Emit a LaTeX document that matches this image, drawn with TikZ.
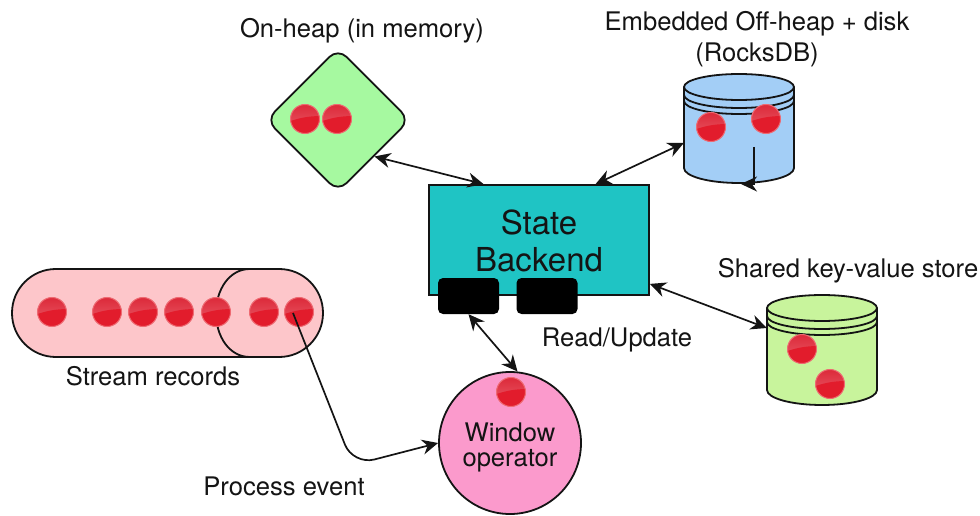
\documentclass[tikz,border=0pt]{standalone}
\usepackage{fontspec}
\setmainfont{TeX Gyre Heros}
\usetikzlibrary{arrows.meta,calc,shapes.geometric}
\definecolor{dmdgreen}{HTML}{A6F9A0}
\definecolor{cylblue}{HTML}{A3CEF6}
\definecolor{cylgreen}{HTML}{C8F49C}
\definecolor{teal}{HTML}{1FC4C4}
\definecolor{pillpink}{HTML}{FDC6CA}
\definecolor{winpink}{HTML}{FB9ACC}
\definecolor{ballred}{HTML}{E21C2C}
\definecolor{balltop}{HTML}{EA5E6A}
\definecolor{balldark}{HTML}{DC2A3A}
\definecolor{ballrim}{HTML}{EE6A72}
\definecolor{ink}{HTML}{141414}
\tikzset{
  lbl/.style={font=\fontsize{25.6}{30}\selectfont,text=ink,inner sep=0pt,align=center},
  bigl/.style={font=\fontsize{33}{38}\selectfont,text=ink,inner sep=0pt,align=center},
  outl/.style={draw=ink,line width=1.8pt},
  ball/.style={circle,minimum size=29pt,inner sep=0pt,fill=ballred,draw=ballrim,line width=1pt,
    path picture={\shade[top color=balldark,bottom color=balltop] (path picture bounding box.north west) rectangle ([yshift=-2pt]path picture bounding box.east);
    \fill[ballred] ([yshift=-2pt]path picture bounding box.west) to[bend left=8] ([yshift=3pt]path picture bounding box.east) -- (path picture bounding box.south east) -- (path picture bounding box.south west) -- cycle;}},
  blk/.style={rectangle,fill=black,rounded corners=5pt,minimum width=61pt,minimum height=36pt,inner sep=0pt},
  link/.style={draw=ink,line width=1.7pt,{Stealth[length=16pt,width=15pt]}-{Stealth[length=16pt,width=15pt]}},
  oneway/.style={draw=ink,line width=1.7pt,-{Stealth[length=16pt,width=15pt]}},
  anchorbox/.style={rectangle,inner sep=0pt,minimum width=110pt,minimum height=110pt}
}
\newcommand{\cylinder}[5]{% left, right, centre y of lid, bottom y of side, colour
  \draw[outl,fill=#5] (#1,#3) arc[x radius={(#2-#1)/2},y radius=13,start angle=180,end angle=360]
     -- (#2,#4) arc[x radius={(#2-#1)/2},y radius=15,start angle=0,end angle=180] -- cycle;
  \foreach \d in {0,8,14}{
    \draw[outl] (#1,#3+\d) arc[x radius={(#2-#1)/2},y radius=13,start angle=180,end angle=0];
  }
}
\begin{document}
\begin{tikzpicture}[x=1pt,y=-1pt]
\useasboundingbox[fill=white] (0,0) rectangle (980,516);

% invisible anchors for the cylinders
\node[anchorbox] (blue) at (739,129) {};
\node[anchorbox] (gcyl) at (822,350) {};

% diamond
\node[diamond,aspect=1,minimum size=144pt,inner sep=0pt,rounded corners=12pt,fill=dmdgreen,outl] (heap) at (338,120) {};

% cylinders
\cylinder{684}{794}{87}{168}{cylblue}
\cylinder{767}{877}{308}{390}{cylgreen}

% state backend
\node[rectangle,minimum width=220pt,minimum height=110pt,inner sep=0pt,fill=teal,outl] (state) at (539,240) {};
\node[bigl] (statetxt) at (539,222) {State};
\node[bigl] (backtxt) at (539,260) {Backend};
\node[blk] (b1) at (468.5,296) {};
\node[blk] (b2) at (547,296) {};

% stream pill
\node[rectangle,minimum width=311pt,minimum height=88pt,inner sep=0pt,rounded corners=43.9pt,fill=pillpink,outl] (pill) at (167.5,313) {};
\draw[outl] (250,269) .. controls (229,269) and (216,290) .. (216,313) .. controls (216,336) and (229,357) .. (250,357);

% window operator
\node[circle,minimum size=142pt,inner sep=0pt,fill=winpink,outl] (win) at (510,443) {};
\node[lbl] (wintxt) at (510,432) {Window};
\node[lbl] (optxt) at (510,461) {operator};

% red balls
\node[ball] (h1) at (305,119) {};
\node[ball] (h2) at (337,119) {};
\node[ball] (r1) at (711,127) {};
\node[ball] (r2) at (766,119) {};
\node[ball] (k1) at (802,349) {};
\node[ball] (k2) at (830,384) {};
\node[ball] (s1) at (52,312) {};
\node[ball] (s2) at (107,312) {};
\node[ball] (s3) at (143,312) {};
\node[ball] (s4) at (179,312) {};
\node[ball] (s5) at (216,312) {};
\node[ball] (s6) at (264,312) {};
\node[ball] (s7) at (299,312) {};
\node[ball] (w1) at (511,392) {};

% connectors
\draw[link] (heap.-45) -- ($(state.north west)!0.25!(state.north east)$);
\draw[link] ($(blue.west)+(0,14)$) -- ($(state.north west)!0.755!(state.north east)$);
\draw[link] ($(state.south east)+(0,-12)$) -- ($(gcyl.west)+(0,-22)$);
\draw[link] (b1.south) -- (win.84);
\draw[oneway,rounded corners=22pt] ($(s7.center)+(-6,1)$) -- (353,465) -- (win.west);
\coordinate (rockstart) at (754,147);
\coordinate (rockbend) at (754,184);
\coordinate (rockend) at (741,184);
\draw[oneway,line width=1.4pt] (rockstart) -- (rockbend) -- (rockend);

% labels
\node[lbl] (l1) at (362,31) {On-heap (in memory)};
\node[lbl] (l2) at (757,24) {Embedded Off-heap + disk};
\node[lbl] (l3) at (757,55) {(RocksDB)};
\node[lbl] (l4) at (848,271) {Shared key-value store};
\node[lbl] (l5) at (617,340) {Read/Update};
\node[lbl] (l6) at (153,376) {Stream records};
\node[lbl] (l7) at (284,486) {Process event};
\end{tikzpicture}
\end{document}
